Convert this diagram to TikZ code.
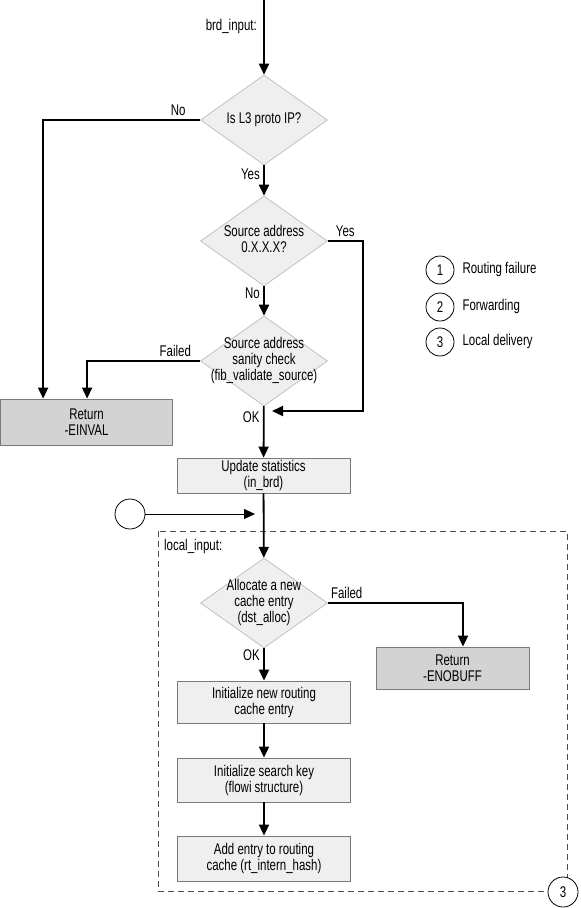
\documentclass[tikz,border=0pt]{standalone}
\usepackage{fontspec}
\setmainfont{Liberation Sans}[FakeStretch=0.74]
\usetikzlibrary{shapes.geometric,arrows.meta}

\definecolor{boxfill}{HTML}{EFEFEF}
\definecolor{retfill}{HTML}{D3D3D3}
\definecolor{boxline}{HTML}{7A7A7A}
\definecolor{dline}{HTML}{B4B4B4}

% text of a decision sits on top of the diamond, so the diamond keeps its size
\newcommand{\dlines}[1]{\makebox[0pt]{\begin{tabular}{@{}c@{}}#1\end{tabular}}}

\tikzset{
  every node/.style={font=\fontsize{15.5}{16}\selectfont},
  flow/.style={line width=1.8pt, -{Triangle[length=11pt,width=10pt]}},
  thinflow/.style={line width=0.9pt, -{Triangle[length=11pt,width=10pt]}},
  decision/.style={diamond, draw=dline, fill=boxfill, line width=0.6pt,
    minimum width=127pt, minimum height=90pt, inner sep=0pt},
  process/.style={rectangle, draw=boxline, fill=boxfill, line width=0.8pt,
    align=center, minimum width=173pt, minimum height=44pt, inner sep=2pt},
  retbox/.style={process, fill=retfill},
  marker/.style={circle, draw, line width=0.8pt, minimum size=30pt, inner sep=0pt, fill=white},
}

\begin{document}
\begin{tikzpicture}[x=1pt, y=-1pt]
    \useasboundingbox (0,0) rectangle (581,908);
    \coordinate (start) at (264,0);

    % upper part: brd_input checks
    \node[decision] (proto) at (264,120) {\dlines{Is L3 proto IP?}};
    \node[decision] (srcz)  at (264,241) {\dlines{Source address\\0.X.X.X?}};
    \node[decision] (chk)   at (264,361) {\dlines{Source address\\sanity check\\(fib\_validate\_source)}};
    \node[retbox, minimum width=172pt, minimum height=46pt] (einval) at (86.5,422) {Return\\-EINVAL};
    \node[process, minimum height=35pt] (update) at (263.5,475.5) {Update statistics\\(in\_brd)};

    % local_input block
    \draw[dashed, dash pattern=on 6pt off 4pt, line width=0.8pt, black!70]
      (158,531) rectangle (567,891);
    \node[anchor=west, inner sep=0pt] (localtxt) at (164,546) {local\_input:};
    \node[decision] (alloc) at (264,603) {\dlines{Allocate a new\\cache entry\\(dst\_alloc)}};
    \node[retbox, minimum width=153pt, minimum height=42pt] (enobuff) at (452.5,668) {Return\\-ENOBUFF};
    \node[process, minimum height=42pt] (initc) at (264,702) {Initialize new routing\\cache entry};
    \node[process] (skey) at (264,780) {Initialize search key\\(flowi structure)};
    \node[process, minimum height=45pt] (addc) at (264,858.5) {Add entry to routing\\cache (rt\_intern\_hash)};
    \node[marker] (local3) at (563,892) {3};

    % entry from elsewhere
    \node[marker] (entry) at (130,514) {};
    \coordinate (entryend) at (255,514);
    \coordinate (merge) at (272,411);

    % legend
    \node[marker, minimum size=28pt] (leg1) at (440,270) {1};
    \node[marker, minimum size=28pt] (leg2) at (440,307) {2};
    \node[marker, minimum size=28pt] (leg3) at (440,342) {3};
    \node[anchor=west] (legt1) at (459,269) {Routing failure};
    \node[anchor=west] (legt2) at (459,306) {Forwarding};
    \node[anchor=west] (legt3) at (459,341) {Local delivery};

    % connectors
    \draw[flow] (start) -- node[left, pos=.35, xshift=-3pt] {brd\_input:} (proto);
    \draw[flow] (proto.west) -| node[above, pos=.07] {No} ([xshift=43pt]einval.north west);
    \draw[flow] (proto) -- node[left, pos=.3] {Yes} (srcz);
    \draw[flow] (srcz.east) -- ++(35,0) node[midway, above] {Yes} |- (merge);
    \draw[flow] (srcz) -- node[left, pos=.25] {No} (chk);
    \draw[flow] (chk.west) -| node[above, pos=.11] {Failed} ([xshift=87pt]einval.north west);
    \draw[flow] (chk) -- node[left, pos=.22] {OK} (update);
    \draw[flow] (update) -- (alloc);
    \draw[thinflow] (entry) -- (entryend);
    \draw[flow] (alloc.east) -| node[above, pos=.07] {Failed} ([xshift=10.5pt]enobuff.north);
    \draw[flow] (alloc) -- node[left, pos=.22] {OK} (initc);
    \draw[flow] (initc) -- (skey);
    \draw[flow] (skey) -- (addc);
\end{tikzpicture}
\end{document}
